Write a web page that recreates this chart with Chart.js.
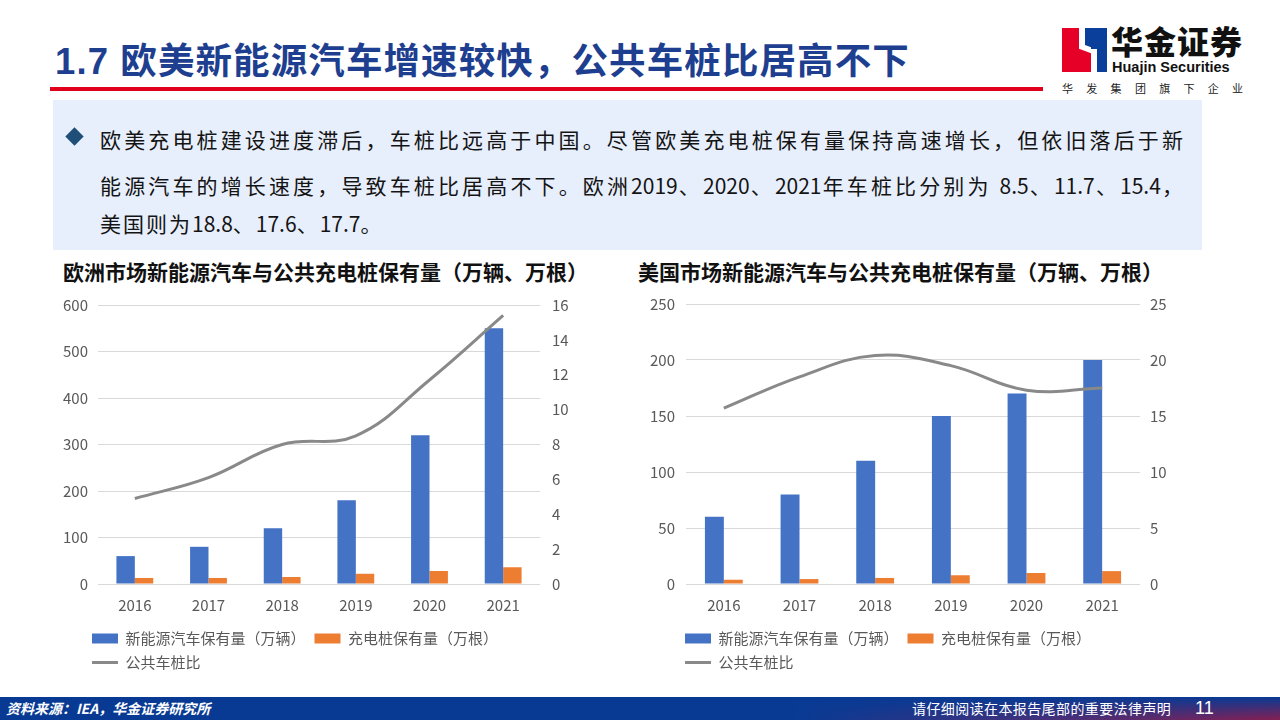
<!DOCTYPE html>
<html lang="zh-CN">
<head>
<meta charset="utf-8">
<script src="https://cdn.jsdelivr.net/npm/chart.js@4.4.1/dist/chart.umd.min.js"></script>
<style>
  html, body { margin:0; padding:0; background:#fff; }
  body { width:1280px; height:720px; position:relative; overflow:hidden; font-family:"Noto Sans CJK SC","Noto Sans",sans-serif; }
  .abs { position:absolute; }
  #title { left:55px; top:42px; font-size:36.5px; line-height:40px; font-weight:bold; color:#1e3f8f; letter-spacing:1.1px; white-space:nowrap; font-family:"Liberation Sans","Noto Sans CJK SC",sans-serif; }
  #redline { left:50px; top:87px; width:993px; height:4px; background:#e0001b; }
  #panel { left:53px; top:100px; width:1149px; height:150px; background:#e8effc; }
  .ptext { position:absolute; left:100px; font-size:21px; line-height:30px; color:#141414; letter-spacing:2px; white-space:nowrap; }
  .just { width:1085px; text-align:justify; text-align-last:justify; }
  .num { letter-spacing:0; }
  #diamond { left:68px; top:130px; width:13px; height:13px; background:#1f4e79; transform:rotate(45deg); }
  .ctitle { position:absolute; top:258px; font-size:21px; line-height:26px; font-weight:bold; color:#111; white-space:nowrap; }
  .chartbox { position:absolute; }
  #footer { left:0; top:697px; width:1280px; height:23px;
    background: linear-gradient(to bottom, rgba(8,58,148,1) 0%, rgba(8,58,148,0.35) 100%), linear-gradient(to right, #083a94 0%, #083a94 62%, #6a2a6a 82%, #c8102e 100%); }
  #src { left:6px; top:699px; font-size:14px; line-height:19px; color:#fff; font-style:italic; font-weight:bold; white-space:nowrap; }
  #legal { left:912px; top:699px; font-size:14px; line-height:19px; color:#fff; letter-spacing:0.4px; white-space:nowrap; }
  #page { left:1195px; top:697px; font-size:18px; line-height:22px; color:#fff; font-family:"Liberation Sans",sans-serif; }
  #logoName { left:1111px; top:23px; font-size:32px; line-height:35px; font-weight:900; color:#111; letter-spacing:1px; white-space:nowrap; }
  #logoEn { left:1112px; top:59px; font-size:14.5px; line-height:16px; font-weight:bold; color:#111; font-family:"Liberation Sans",sans-serif; white-space:nowrap; }
  #logoSub { left:1062px; top:81px; font-size:11px; line-height:14px; color:#222; letter-spacing:13.3px; white-space:nowrap; }
</style>
</head>
<body>
<div id="title" class="abs">1.7 欧美新能源汽车增速较快，公共车桩比居高不下</div>
<div id="redline" class="abs"></div>

<!-- logo -->
<div class="abs" style="left:1062px;top:28px;width:29px;height:44px;background:#e60028;"></div>
<div class="abs" style="left:1091px;top:28px;width:16px;height:44px;background:#0a3f9c;"></div>
<div class="abs" style="left:1079px;top:28px;width:6px;height:19px;background:#fff;"></div>
<div class="abs" style="left:1085px;top:28px;width:6px;height:19px;background:#0a3f9c;"></div>
<div class="abs" style="left:1079px;top:45px;width:12px;height:6px;background:#fff;transform:skewY(20deg);"></div>
<div class="abs" style="left:1091px;top:49px;width:6px;height:23px;background:#fff;"></div>
<div id="logoName" class="abs">华金证券</div>
<div id="logoEn" class="abs">Huajin Securities</div>
<div id="logoSub" class="abs">华发集团旗下企业</div>

<div id="panel" class="abs"></div>
<div id="diamond" class="abs"></div>
<div class="ptext just" style="top:124px;">欧美充电桩建设进度滞后，车桩比远高于中国。尽管欧美充电桩保有量保持高速增长，但依旧落后于新</div>
<div class="ptext just" style="top:170px;">能源汽车的增长速度，导致车桩比居高不下。欧洲<span class="num">2019</span>、<span class="num">2020</span>、<span class="num">2021</span>年车桩比分别为 <span class="num">8.5</span>、<span class="num">11.7</span>、<span class="num">15.4</span>，</div>
<div class="ptext" style="top:208px;">美国则为<span class="num">18.8</span>、<span class="num">17.6</span>、<span class="num">17.7</span>。</div>

<div class="ctitle" style="left:63px;">欧洲市场新能源汽车与公共充电桩保有量（万辆、万根）</div>
<div class="ctitle" style="left:638px;">美国市场新能源汽车与公共充电桩保有量（万辆、万根）</div>

<div class="chartbox" style="left:55px;top:284px;width:530px;height:396px;"><canvas id="euChart"></canvas></div>
<div class="chartbox" style="left:630px;top:284px;width:540px;height:396px;"><canvas id="usChart"></canvas></div>

<div id="footer" class="abs"></div>
<div id="src" class="abs">资料来源：IEA，华金证券研究所</div>
<div id="legal" class="abs">请仔细阅读在本报告尾部的重要法律声明</div>
<div id="page" class="abs">11</div>

<script>
// ---------- data ----------
const years = ['2016', '2017', '2018', '2019', '2020', '2021'];
const seriesNames = ['新能源汽车保有量（万辆）', '充电桩保有量（万根）', '公共车桩比'];

const euEV = [60, 80, 120, 180, 320, 550];
const euChargers = [13, 13, 15, 22, 28, 36];
const euRatio = [4.9, 6.1, 8.0, 8.5, 11.7, 15.4];

const usEV = [60, 80, 110, 150, 170, 200];
const usChargers = [3.8, 4.4, 5.4, 7.8, 9.8, 11.5];
const usRatio = [15.7, 18.5, 20.4, 19.5, 17.3, 17.5];

const euLeftTicks = [0, 100, 200, 300, 400, 500, 600];
const euRightTicks = [0, 2, 4, 6, 8, 10, 12, 14, 16];
const usLeftTicks = [0, 50, 100, 150, 200, 250];
const usRightTicks = [0, 5, 10, 15, 20, 25];

// ---------- styles ----------
const BLUE = '#4472c4', ORANGE = '#ed7d31', GRAY = '#898989', TXT = '#595959', GRID = '#d9d9d9';
const FONT = '"Noto Sans CJK SC", "Noto Sans", sans-serif';

const legendShift = {
  id: 'legendShift',
  afterLayout(chart, args, opts) {
    const l = chart.legend;
    if (l && opts && opts.dx) { l.left += opts.dx; l.right += opts.dx; }
  }
};

function makeChart(id, bars1, bars2, line, leftTicks, rightTicks, geom) {
  const ctx = document.getElementById(id);
  return new Chart(ctx, {
    type: 'bar',
    data: {
      labels: years,
      datasets: [
        { type: 'bar', label: seriesNames[0], data: bars1, backgroundColor: BLUE, borderWidth: 0, yAxisID: 'y', order: 1,
          categoryPercentage: 0.5, barPercentage: 1.0 },
        { type: 'bar', label: seriesNames[1], data: bars2, backgroundColor: ORANGE, borderWidth: 0, yAxisID: 'y', order: 1,
          categoryPercentage: 0.5, barPercentage: 1.0 },
        { type: 'line', label: seriesNames[2], data: line, borderColor: GRAY, backgroundColor: GRAY, borderWidth: 3,
          pointRadius: 0, tension: 0.4, yAxisID: 'y1', order: 0, borderCapStyle: 'butt' }
      ]
    },
    plugins: [legendShift],
    options: {
      responsive: true,
      maintainAspectRatio: false,
      animation: false,
      layout: { padding: { top: 13, left: 0, right: 0, bottom: 0 } },
      scales: {
        x: {
          grid: { display: false },
          border: { display: false },
          ticks: { color: TXT, font: { family: FONT, size: 15 }, padding: 4 },
          afterFit(s) { s.height = 38; }
        },
        y: {
          position: 'left',
          min: leftTicks[0], max: leftTicks[leftTicks.length - 1],
          afterBuildTicks(s) { s.ticks = leftTicks.map(v => ({ value: v })); },
          grid: { color: GRID, lineWidth: 1, drawTicks: false },
          border: { display: false },
          ticks: { color: TXT, font: { family: FONT, size: 15 }, padding: geom.lp },
          afterFit(s) { s.width = geom.lw; }
        },
        y1: {
          position: 'right',
          min: rightTicks[0], max: rightTicks[rightTicks.length - 1],
          afterBuildTicks(s) { s.ticks = rightTicks.map(v => ({ value: v })); },
          grid: { display: false, drawTicks: false },
          border: { display: false },
          ticks: { color: TXT, font: { family: FONT, size: 15 }, padding: geom.rp },
          afterFit(s) { s.width = geom.rw; }
        }
      },
      plugins: {
        legendShift: { dx: geom.dx },
        tooltip: { enabled: false },
        legend: {
          position: 'bottom',
          align: 'start',
          labels: {
            color: TXT,
            font: { family: FONT, size: 15 },
            padding: 9,
            usePointStyle: true,
            pointStyleWidth: 26,
            boxHeight: 10,
            sort: (a, b) => a.datasetIndex - b.datasetIndex,
            generateLabels(chart) {
              const items = Chart.defaults.plugins.legend.labels.generateLabels(chart);
              items.forEach(it => {
                const ds = chart.data.datasets[it.datasetIndex];
                it.pointStyle = ds.type === 'line' ? 'line' : 'rect';
                if (ds.type !== 'line') it.lineWidth = 0;
              });
              return items;
            }
          }
        }
      }
    }
  });
}

makeChart('euChart', euEV, euChargers, euRatio, euLeftTicks, euRightTicks, { lw: 43, rw: 45, lp: 10, rp: 12, dx: 28 });
makeChart('usChart', usEV, usChargers, usRatio, usLeftTicks, usRightTicks, { lw: 56, rw: 30, lp: 11, rp: 10, dx: 46 });
</script>
</body>
</html>
